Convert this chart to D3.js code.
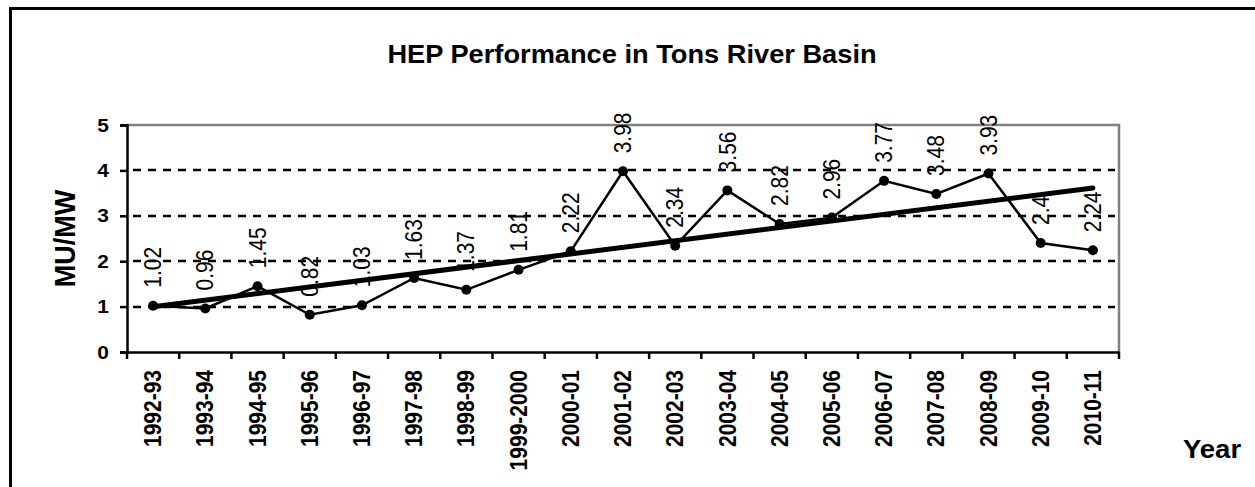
<!DOCTYPE html>
<html>
<head>
<meta charset="utf-8">
<script src="https://cdn.jsdelivr.net/npm/d3@7"></script>
<style>
  body { margin: 0; background: #fff; }
  svg { display: block; font-family: "Liberation Sans", Arial, sans-serif; }
</style>
</head>
<body>
<svg id="chart"></svg>
<script>
// data
var years = ["1992-93", "1993-94", "1994-95", "1995-96", "1996-97", "1997-98", "1998-99",
  "1999-2000", "2000-01", "2001-02", "2002-03", "2003-04", "2004-05", "2005-06",
  "2006-07", "2007-08", "2008-09", "2009-10", "2010-11"];
var muPerMw = [1.02, 0.96, 1.45, 0.82, 1.03, 1.63, 1.37, 1.81, 2.22, 3.98, 2.34, 3.56,
  2.82, 2.96, 3.77, 3.48, 3.93, 2.4, 2.24];
var yTicks = [0, 1, 2, 3, 4, 5];

var width = 1255, height = 487;
var plotLeft = 127, plotRight = 1119, plotTop = 125, plotBottom = 352;
var sx = 1.1; // text looks a bit stretched sideways

var svg = d3.select("#chart")
  .attr("width", width)
  .attr("height", height);

// outer frame, runs off the right and bottom edges
svg.append("rect")
  .attr("x", 10.5).attr("y", 8.5)
  .attr("width", 1400).attr("height", 600)
  .attr("fill", "none")
  .attr("stroke", "#000")
  .attr("stroke-width", 3);

var x = d3.scaleBand().domain(years).range([plotLeft, plotRight]);
var y = d3.scaleLinear().domain([0, 5]).range([plotBottom, plotTop]);
var cx = function(d, i) { return x(years[i]) + x.bandwidth() / 2; };

// grid lines
svg.append("g")
  .selectAll("line")
  .data([1, 2, 3, 4])
  .enter()
  .append("line")
  .attr("x1", plotLeft + 6).attr("x2", plotRight - 4)
  .attr("y1", function(d) { return Math.round(y(d)); })
  .attr("y2", function(d) { return Math.round(y(d)); })
  .attr("stroke", "#000")
  .attr("stroke-width", 2.5)
  .attr("stroke-dasharray", "8,7");

// plot area border (top and right)
svg.append("path")
  .attr("d", "M" + plotLeft + "," + y(5) + "H" + plotRight + "V" + plotBottom)
  .attr("fill", "none")
  .attr("stroke", "#808080")
  .attr("stroke-width", 2.5);

// y axis
var yAxis = svg.append("g")
  .attr("transform", "translate(" + plotLeft + ",0)")
  .call(d3.axisLeft(y).tickValues(yTicks).tickSize(7).tickFormat(d3.format("d")));
yAxis.attr("font-family", null);
yAxis.select(".domain").attr("stroke-width", 2.5);
yAxis.selectAll(".tick line").attr("stroke-width", 2.5);
yAxis.selectAll(".tick text")
  .attr("x", 0)
  .attr("transform", "translate(-18,0) scale(" + sx + ",1)")
  .attr("font-size", 19)
  .attr("font-weight", "bold")
  .attr("fill", "#000");

// x axis: labels at centres, ticks at the category edges
var xAxis = svg.append("g")
  .attr("transform", "translate(0," + plotBottom + ")")
  .call(d3.axisBottom(x).tickSize(0).tickSizeOuter(0));
xAxis.attr("font-family", null);
xAxis.select(".domain").attr("stroke-width", 2.5);
xAxis.selectAll(".tick text")
  .attr("x", 0).attr("y", 0)
  .attr("dy", "0.35em")
  .attr("text-anchor", "end")
  .attr("transform", "translate(0,18) scale(" + sx + ",1) rotate(-90)")
  .attr("font-size", 21)
  .attr("font-weight", "bold")
  .attr("fill", "#000");

var edges = years.map(function(d) { return x(d); }).concat([plotRight]);
xAxis.selectAll(".edge")
  .data(edges)
  .enter()
  .append("line")
  .attr("class", "edge")
  .attr("x1", function(d) { return d; })
  .attr("x2", function(d) { return d; })
  .attr("y1", 0).attr("y2", 7)
  .attr("stroke", "#000")
  .attr("stroke-width", 2.5);

// linear trend line (least squares)
var n = muPerMw.length;
var mx = d3.mean(muPerMw, function(d, i) { return i; });
var my = d3.mean(muPerMw);
var sxy = d3.sum(muPerMw, function(d, i) { return (i - mx) * (d - my); });
var sxx = d3.sum(muPerMw, function(d, i) { return (i - mx) * (i - mx); });
var slope = sxy / sxx, icpt = my - slope * mx;

svg.append("line")
  .attr("x1", cx(null, 0)).attr("y1", y(icpt))
  .attr("x2", cx(null, n - 1)).attr("y2", y(icpt + slope * (n - 1)))
  .attr("stroke", "#000")
  .attr("stroke-width", 5)
  .attr("stroke-linecap", "round");

// series line
var line = d3.line()
  .x(cx)
  .y(function(d) { return y(d); });

svg.append("path")
  .datum(muPerMw)
  .attr("d", line)
  .attr("fill", "none")
  .attr("stroke", "#000")
  .attr("stroke-width", 2.5);

svg.selectAll(".dot")
  .data(muPerMw)
  .enter()
  .append("circle")
  .attr("class", "dot")
  .attr("cx", cx)
  .attr("cy", function(d) { return y(d); })
  .attr("r", 5)
  .attr("fill", "#000");

// data labels, rotated
svg.selectAll(".dataLabel")
  .data(muPerMw)
  .enter()
  .append("text")
  .attr("class", "dataLabel")
  .text(function(d) { return d; })
  .attr("dy", "0.35em")
  .attr("text-anchor", "start")
  .attr("transform", function(d, i) {
    return "translate(" + cx(d, i) + "," + (y(d) - 18) + ") scale(" + sx + ",1) rotate(-90)";
  })
  .attr("font-size", 21)
  .attr("fill", "#000");

// title and axis titles
svg.append("text")
  .attr("transform", "translate(632,63) scale(1.09,1)")
  .attr("text-anchor", "middle")
  .attr("font-size", 25)
  .attr("font-weight", "bold")
  .text("HEP Performance in Tons River Basin");

svg.append("text")
  .attr("transform", "translate(65," + ((plotTop + plotBottom) / 2) + ") scale(" + sx + ",1) rotate(-90)")
  .attr("text-anchor", "middle")
  .attr("dy", "0.35em")
  .attr("font-size", 27)
  .attr("font-weight", "bold")
  .text("MU/MW");

svg.append("text")
  .attr("transform", "translate(1183,458) scale(" + sx + ",1)")
  .attr("font-size", 25)
  .attr("font-weight", "bold")
  .text("Year");
</script>
</body>
</html>
